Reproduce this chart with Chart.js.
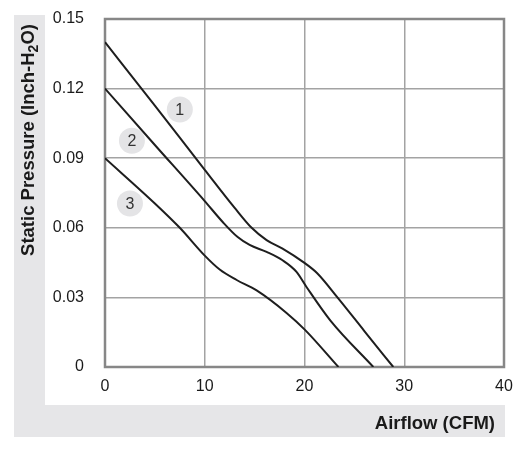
<!DOCTYPE html>
<html>
<head>
<meta charset="utf-8">
<script src="https://cdn.jsdelivr.net/npm/chart.js@4/dist/chart.umd.min.js"></script>
<style>
  html, body { margin:0; padding:0; background:#fff; }
  #wrap { width:516px; height:451px; position:relative; }
</style>
</head>
<body>
<div id="wrap"><canvas id="c" width="516" height="451"></canvas></div>
<script>
// ---- data ----
const airflow1  = [0, 5, 10, 13, 14.7, 16.2, 17.8, 19.85, 21.25, 23.3, 26, 28.9];
const pressure1 = [0.14, 0.1127, 0.085, 0.0686, 0.060, 0.0547, 0.051, 0.0453, 0.0405, 0.030, 0.0155, 0];

const airflow2  = [0, 5, 10, 11.8, 13.3, 14.5, 16.2, 17.8, 19.2, 20.2, 22.6, 26.9];
const pressure2 = [0.12, 0.0957, 0.0715, 0.0625, 0.056, 0.0526, 0.0496, 0.046, 0.041, 0.0345, 0.020, 0];

const airflow3  = [0, 5, 7.5, 10, 11.5, 13.2, 15.2, 18.2, 20.05, 23.4];
const pressure3 = [0.09, 0.0705, 0.060, 0.048, 0.042, 0.0375, 0.033, 0.0233, 0.016, 0];

const curveLabels = ['1', '2', '3'];
const labelX = [7.5, 2.7, 2.5];
const labelY = [0.111, 0.0975, 0.0705];

const xTickValues = [0, 10, 20, 30, 40];
const yTickValues = [0, 0.03, 0.06, 0.09, 0.12, 0.15];
const yTickLabels = ['0', '0.03', '0.06', '0.09', '0.12', '0.15'];

const xTitle = 'Airflow (CFM)';
const yTitleMain = 'Static Pressure (Inch-H';
const yTitleSub = '2';
const yTitleEnd = 'O)';

// ---- build ----
const toPts = (xs, ys) => xs.map((x, i) => ({x, y: ys[i]}));
const lineStyle = {
  borderColor: '#1e1e1e', borderWidth: 2, pointRadius: 0, pointHoverRadius: 0, fill: false,
  cubicInterpolationMode: 'monotone', showLine: true, type: 'line'
};

const FONT = '"Liberation Sans", Arial, sans-serif';

const decor = {
  id: 'decor',
  beforeDraw(chart) {
    const ctx = chart.ctx;
    ctx.save();
    ctx.fillStyle = '#ffffff';
    ctx.fillRect(0, 0, chart.width, chart.height);
    ctx.fillStyle = '#e6e6e8';
    ctx.fillRect(14, 15, 31, 422);
    ctx.fillRect(14, 405, 491, 32);
    ctx.restore();
  },
  beforeDatasetsDraw(chart) {
    const ctx = chart.ctx, a = chart.chartArea;
    ctx.save();
    ctx.strokeStyle = '#878787';
    ctx.lineWidth = 2.5;
    ctx.strokeRect(a.left, a.top, a.right - a.left, a.bottom - a.top);
    ctx.restore();
  },
  afterDatasetsDraw(chart) {
    const ctx = chart.ctx;
    const meta = chart.getDatasetMeta(3);
    ctx.save();
    ctx.fillStyle = '#333333';
    ctx.font = '16px ' + FONT;
    ctx.textAlign = 'center';
    ctx.textBaseline = 'middle';
    meta.data.forEach((pt, i) => {
      ctx.fillText(curveLabels[i], pt.x, pt.y + 1);
    });
    ctx.restore();
  },
  afterDraw(chart) {
    const ctx = chart.ctx;
    ctx.save();
    ctx.fillStyle = '#1a1a1a';
    // x title
    ctx.font = 'bold 18.5px ' + FONT;
    ctx.textAlign = 'right';
    ctx.textBaseline = 'middle';
    ctx.fillText(xTitle, 495, 424);
    // y title (rotated, with subscript)
    const mainFont = 'bold 18.5px ' + FONT;
    const subFont = 'bold 14px ' + FONT;
    ctx.font = mainFont;
    const w1 = ctx.measureText(yTitleMain).width;
    const w3 = ctx.measureText(yTitleEnd).width;
    ctx.font = subFont;
    const w2 = ctx.measureText(yTitleSub).width;
    const total = w1 + w2 + w3;
    ctx.translate(29, 140);
    ctx.rotate(-Math.PI / 2);
    ctx.textAlign = 'left';
    ctx.textBaseline = 'middle';
    let x0 = -total / 2;
    ctx.font = mainFont;
    ctx.fillText(yTitleMain, x0, 0);
    ctx.font = subFont;
    ctx.fillText(yTitleSub, x0 + w1, 5);
    ctx.font = mainFont;
    ctx.fillText(yTitleEnd, x0 + w1 + w2, 0);
    ctx.restore();
  }
};

new Chart(document.getElementById('c'), {
  type: 'scatter',
  data: {
    datasets: [
      Object.assign({ label: '1', data: toPts(airflow1, pressure1) }, lineStyle),
      Object.assign({ label: '2', data: toPts(airflow2, pressure2) }, lineStyle),
      Object.assign({ label: '3', data: toPts(airflow3, pressure3) }, lineStyle),
      {
        label: 'markers', type: 'scatter', data: toPts(labelX, labelY),
        pointRadius: 13, pointHoverRadius: 13, backgroundColor: '#e4e4e6',
        borderWidth: 0, showLine: false
      }
    ]
  },
  options: {
    responsive: false,
    animation: false,
    events: [],
    layout: { autoPadding: false, padding: { top: 19, right: 12, left: 0, bottom: 0 } },
    plugins: { legend: { display: false }, tooltip: { enabled: false }, title: { display: false } },
    scales: {
      x: {
        type: 'linear', min: 0, max: 40,
        afterBuildTicks: s => { s.ticks = xTickValues.map(v => ({ value: v })); },
        afterFit: s => { s.height = 84; s.paddingLeft = 0; s.paddingRight = 0; },
        grid: { color: '#a3a3a3', lineWidth: 1.5, drawTicks: false },
        border: { display: false },
        ticks: { color: '#1a1a1a', font: { family: FONT, size: 16 }, padding: 10, maxRotation: 0 }
      },
      y: {
        type: 'linear', min: 0, max: 0.15,
        afterBuildTicks: s => { s.ticks = yTickValues.map(v => ({ value: v })); },
        afterFit: s => { s.width = 105; s.paddingTop = 0; s.paddingBottom = 0; },
        grid: { color: '#a3a3a3', lineWidth: 1.5, drawTicks: false },
        border: { display: false },
        ticks: {
          color: '#1a1a1a', font: { family: FONT, size: 16 }, padding: 21,
          callback: (v, i) => yTickLabels[i]
        }
      }
    }
  },
  plugins: [decor]
});
</script>
</body>
</html>
